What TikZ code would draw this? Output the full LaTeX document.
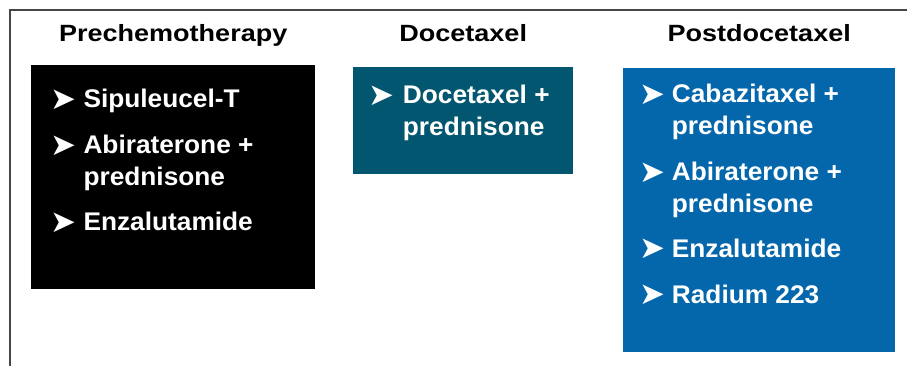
\documentclass[tikz,border=0pt]{standalone}
\usepackage{fontspec}
\setmainfont{Liberation Sans}
\newfontfamily\headfont[FakeStretch=1.15]{Liberation Sans}
\newfontfamily\itemfont[FakeStretch=1.03]{Liberation Sans}
\newfontfamily\arrowfont{DejaVu Sans}
\definecolor{tealbox}{RGB}{2,86,111}
\definecolor{bluebox}{RGB}{4,103,172}
\definecolor{framegray}{RGB}{70,70,70}
\begin{document}
\begin{tikzpicture}[x=1pt, y=-1pt,
    box/.style={draw=none, anchor=north west, inner sep=0pt},
    head/.style={anchor=base, inner sep=0pt, font=\headfont\bfseries\fontsize{23.5}{28}\selectfont},
    itm/.style={anchor=base west, inner sep=0pt, text=white, font=\itemfont\bfseries\fontsize{25.5}{30}\selectfont},
    bul/.style={anchor=base west, inner sep=0pt, text=white, font=\arrowfont\fontsize{31}{36}\selectfont}]
\useasboundingbox (0,0) rectangle (907,365);
\draw[framegray, line width=2pt] (10,366)--(10,10)--(908,10);

% boxes
\node[box, fill=black, minimum width=284pt, minimum height=224pt] (pre) at (31,65) {};
\node[box, fill=tealbox, minimum width=220pt, minimum height=107pt] (doc) at (353,67) {};
\node[box, fill=bluebox, minimum width=272pt, minimum height=284pt] (post) at (623,68) {};

% headings
\node[head] (prehead) at (pre.north |- 0,41.7) {Prechemotherapy};
\node[head] (dochead) at (doc.north |- 0,41.7) {Docetaxel};
\node[head] (posthead) at (post.north |- 0,41.7) {Postdocetaxel};

% prechemotherapy
\node[bul] (preb1) at (50,109.5) {➤};
\node[itm] (pret1) at (83.3,107.7) {Sipuleucel-T};
\node[bul] (preb2) at (50,155.3) {➤};
\node[itm] (pret2) at (83.3,153.5) {Abiraterone +};
\node[itm] (pret2b) at (83.3,185) {prednisone};
\node[bul] (preb3) at (50,232.3) {➤};
\node[itm] (pret3) at (83.3,230.5) {Enzalutamide};

% docetaxel
\node[bul] (docb1) at (368.5,105.1) {➤};
\node[itm] (doct1) at (402.7,103.3) {Docetaxel +};
\node[itm] (doct1b) at (402.7,135) {prednisone};

% postdocetaxel
\node[bul] (postb1) at (639.5,104.3) {➤};
\node[itm] (postt1) at (671.7,102.5) {Cabazitaxel +};
\node[itm] (postt1b) at (671.7,134.5) {prednisone};
\node[bul] (postb2) at (639.5,182.3) {➤};
\node[itm] (postt2) at (671.7,180.5) {Abiraterone +};
\node[itm] (postt2b) at (671.7,212) {prednisone};
\node[bul] (postb3) at (639.5,258.8) {➤};
\node[itm] (postt3) at (671.7,257) {Enzalutamide};
\node[bul] (postb4) at (639.5,304.8) {➤};
\node[itm] (postt4) at (671.7,303) {Radium 223};
\end{tikzpicture}
\end{document}
